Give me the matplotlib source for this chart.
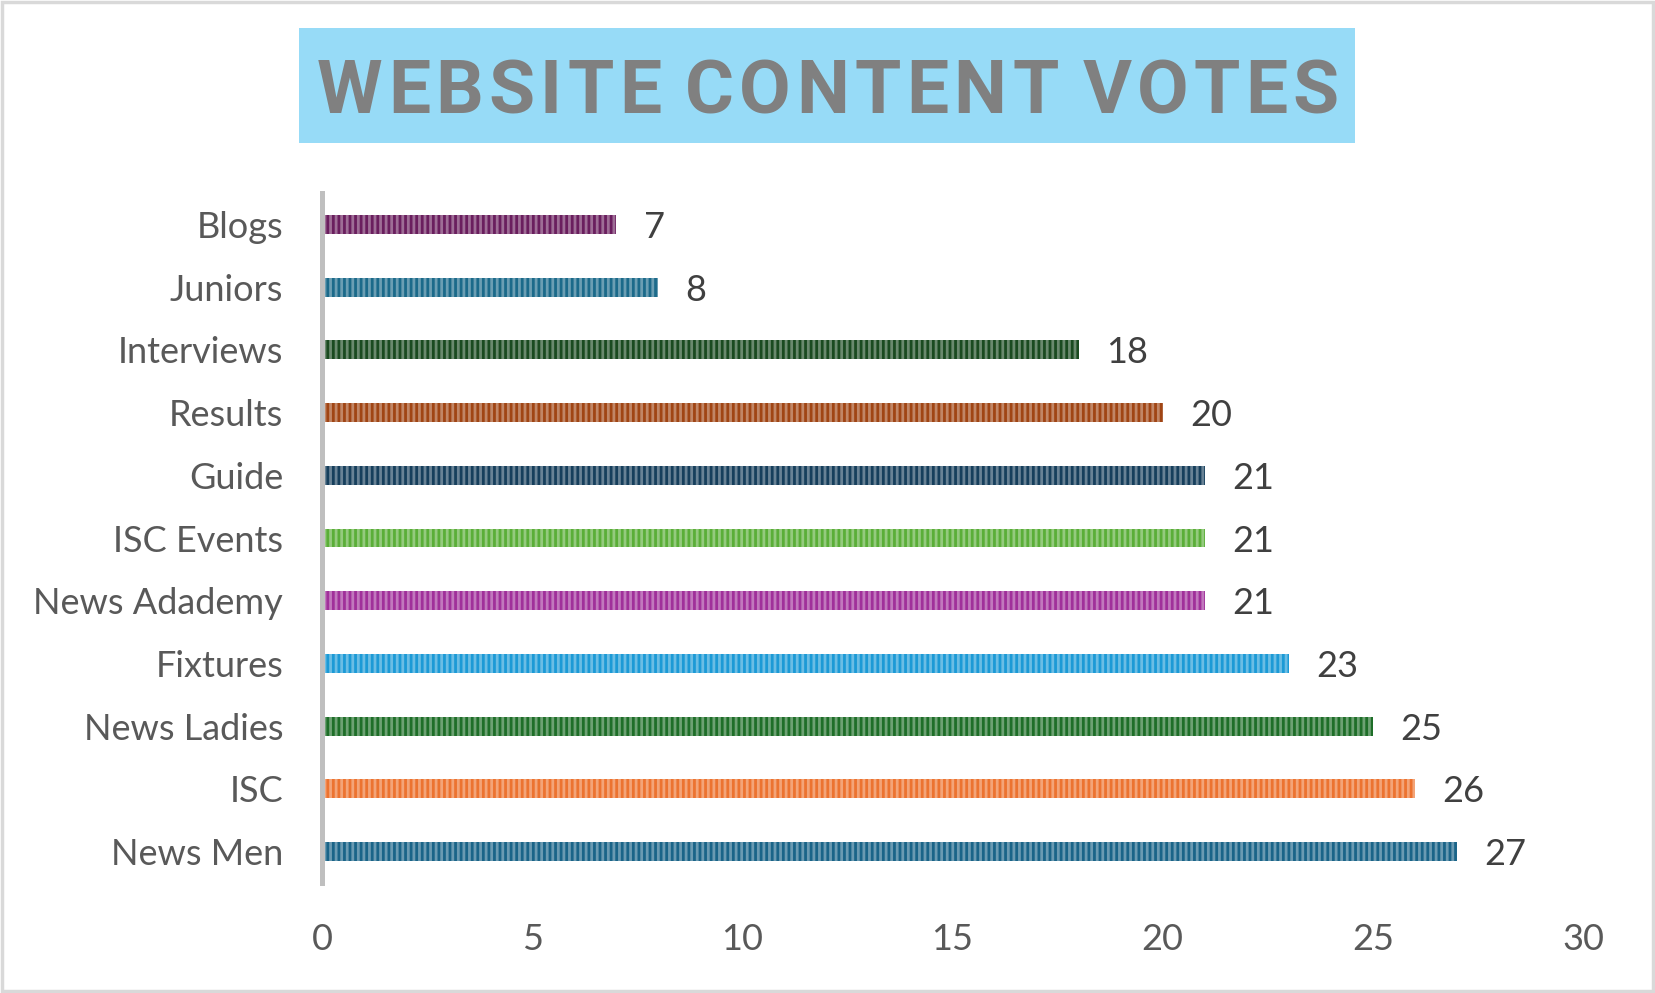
import numpy as np
import matplotlib
matplotlib.use("Agg")
import matplotlib.pyplot as plt
from matplotlib.colors import to_rgb
from matplotlib.patches import Rectangle

plt.rcParams['font.family'] = ['Lato', 'DejaVu Sans']

categories = ["Blogs", "Juniors", "Interviews", "Results", "Guide", "ISC Events",
              "News Adademy", "Fixtures", "News Ladies", "ISC", "News Men"]
votes = [7, 8, 18, 20, 21, 21, 21, 23, 25, 26, 27]
bar_colors = ["#6a1e5e", "#1b6a8a", "#1a4a20", "#a04514", "#163f5c", "#5aae38",
              "#a0309a", "#1c9ad6", "#1e6e28", "#ec7330", "#1a6488"]
xticks = [0, 5, 10, 15, 20, 25, 30]
title = "WEBSITE CONTENT VOTES"


def lighter(c, amt=0.35):
    r, g, b = to_rgb(c)
    return (r + (1 - r) * amt, g + (1 - g) * amt, b + (1 - b) * amt)


plt.rcParams['hatch.linewidth'] = 2.0

fig = plt.figure(figsize=(16.56, 9.93), dpi=100)
ax = fig.add_axes([0.1944, 0.1108, 0.7616, 0.6948])

y = np.arange(len(categories))
for yi, v, c in zip(y, votes, bar_colors):
    ax.barh(yi, v, height=0.3, color=c, edgecolor=lighter(c), linewidth=0, hatch='|||')
    ax.text(v + 0.65, yi, str(v), va='center_baseline', ha='left', fontsize=26, color='#404040')

ax.set_ylim(len(categories) - 0.5, -0.5)
ax.set_xlim(0, 30)
ax.set_xticks(xticks)
ax.set_xticklabels([str(t) for t in xticks], fontsize=26, color='#595959')
ax.set_yticks(y)
ax.set_yticklabels(categories, fontsize=26, color='#595959')
ax.tick_params(axis='x', length=0, pad=29)
ax.tick_params(axis='y', length=0, pad=28)
for s in ['top', 'right', 'bottom']:
    ax.spines[s].set_visible(False)
ax.spines['left'].set_color('#bfbfbf')
ax.spines['left'].set_linewidth(3.6)

# title box
fig.patches.append(Rectangle((0.1806, 0.856), 0.6376, 0.1158, transform=fig.transFigure,
                             facecolor='#97dbf7', edgecolor='none', zorder=0))

# title: letters placed one by one so the spacing fills the reference width
renderer = fig.canvas.get_renderer()
target_w = 1022
fsize = 54
space_w = fsize * 0.25
chars = []
widths = []
for ch in title:
    t = fig.text(0, 0.886, ch, fontsize=fsize, fontweight='bold', color='#808080',
                 va='baseline', ha='left', family=['Roboto', 'DejaVu Sans'])
    chars.append(t)
    widths.append(t.get_window_extent(renderer).width if ch != ' ' else space_w)
tracking = max(0.0, (target_w - sum(widths)) / (len(title) - 1))
total = sum(widths) + tracking * (len(title) - 1)
x_px = 0.5 * fig.bbox.width - total / 2
for t, w in zip(chars, widths):
    t.set_x(x_px / fig.bbox.width)
    x_px += w + tracking

# outer border
fig.patches.append(Rectangle((0.001, 0.002), 0.997, 0.996, transform=fig.transFigure,
                             facecolor='none', edgecolor='#d9d9d9', linewidth=2.5))

fig.savefig("out.png", dpi=100)
